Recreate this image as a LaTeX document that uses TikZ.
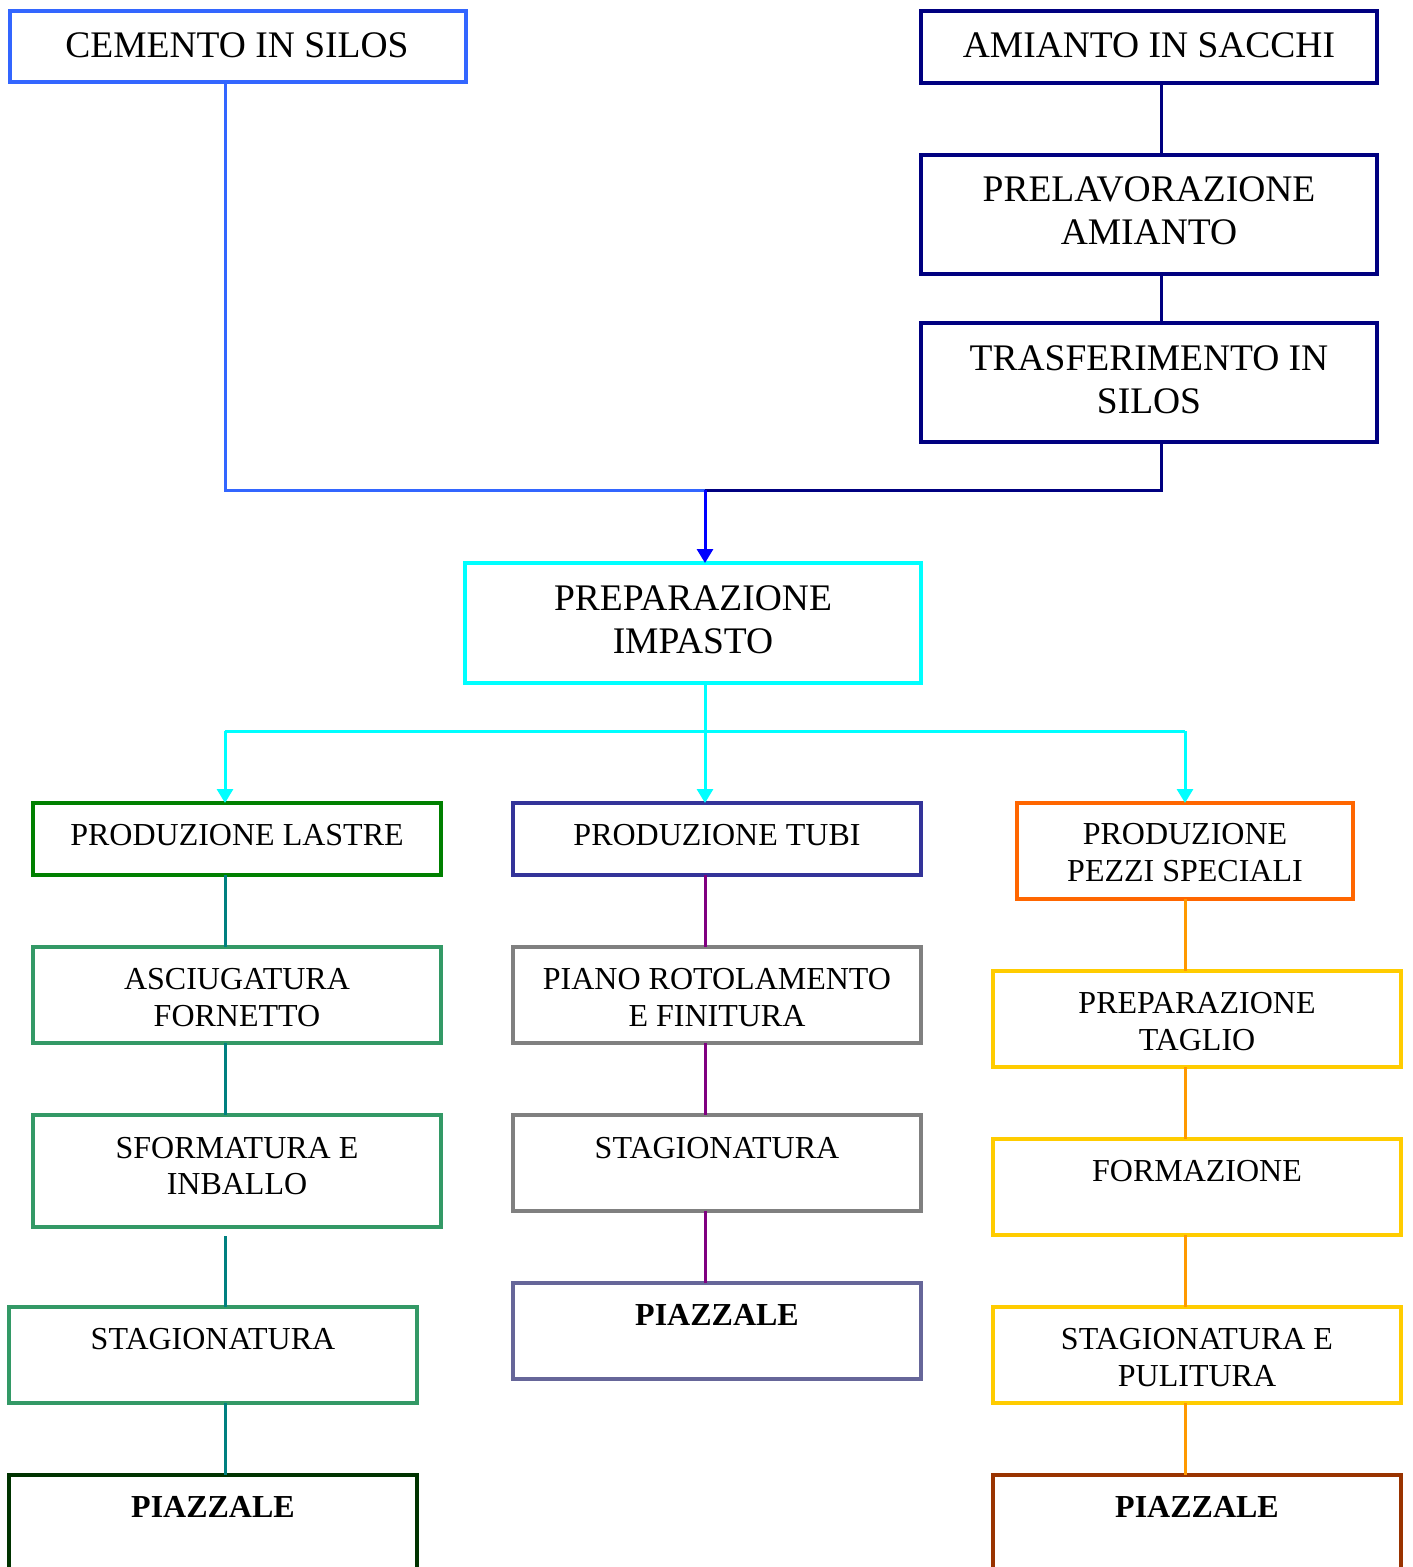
\documentclass[tikz,border=0pt]{standalone}
\usepackage{fontspec}
\setmainfont{Liberation Serif}
\usetikzlibrary{arrows.meta}

\definecolor{cemblue}{HTML}{3366FF}
\definecolor{navyline}{HTML}{000080}
\definecolor{arrowblue}{HTML}{0000FF}
\definecolor{cyanline}{HTML}{00FFFF}
\definecolor{lastregreen}{HTML}{008000}
\definecolor{tubiblue}{HTML}{333399}
\definecolor{pezziorange}{HTML}{FF6600}
\definecolor{seagreen}{HTML}{339966}
\definecolor{grayline}{HTML}{808080}
\definecolor{goldline}{HTML}{FFCC00}
\definecolor{tealline}{HTML}{008080}
\definecolor{purpleline}{HTML}{800080}
\definecolor{lightorange}{HTML}{FF9900}
\definecolor{slateline}{HTML}{666699}
\definecolor{darkgreen}{HTML}{003300}
\definecolor{brownline}{HTML}{993300}

\tikzset{
  procbox/.style={draw, line width=3.5pt, inner sep=0pt, outer sep=0pt},
  bigtext/.style={font=\fontsize{37.5}{44}\selectfont, anchor=base, inner sep=0pt},
  smalltext/.style={font=\fontsize{32}{37}\selectfont, anchor=base, inner sep=0pt},
  boldtext/.style={font=\fontsize{32}{37}\selectfont\bfseries, anchor=base, inner sep=0pt},
  link/.style={line width=3pt},
  tip/.style={-{Triangle[width=16pt,length=14pt]}}
}

\begin{document}
\begin{tikzpicture}[x=1pt, y=-1pt]
\clip (0,0) rectangle (1413,1567);
\fill[white] (0,0) rectangle (1413,1567);

% ---------- raw materials ----------
\node[procbox, draw=cemblue, line width=4pt, minimum width=456pt, minimum height=71pt] (cem) at (237.5,46.5) {};
\node[bigtext] (cemT) at (237,57) {CEMENTO IN SILOS};

\node[procbox, draw=navyline, minimum width=456pt, minimum height=72pt] (ami) at (1149,47) {};
\node[bigtext] (amiT) at (1149,57) {AMIANTO IN SACCHI};

\node[procbox, draw=navyline, minimum width=456pt, minimum height=119pt] (pre) at (1149,214.5) {};
\node[bigtext] (preT1) at (1149,201) {PRELAVORAZIONE};
\node[bigtext] (preT2) at (1149,244) {AMIANTO};

\node[procbox, draw=navyline, minimum width=456pt, minimum height=119pt] (tra) at (1149,382.5) {};
\node[bigtext] (traT1) at (1149,370) {TRASFERIMENTO IN};
\node[bigtext] (traT2) at (1149,413) {SILOS};

% ---------- mixing ----------
\node[procbox, draw=cyanline, minimum width=456pt, minimum height=120pt] (imp) at (693,623) {};
\node[bigtext] (impT1) at (693,610) {PREPARAZIONE};
\node[bigtext] (impT2) at (693,653) {IMPASTO};

% ---------- sheets line ----------
\node[procbox, draw=lastregreen, minimum width=408pt, minimum height=72pt] (las) at (237,839) {};
\node[smalltext] (lasT) at (237,845) {PRODUZIONE LASTRE};

\node[procbox, draw=seagreen, minimum width=408pt, minimum height=96pt] (asc) at (237,995) {};
\node[smalltext] (ascT1) at (237,989) {ASCIUGATURA};
\node[smalltext] (ascT2) at (237,1026) {FORNETTO};

\node[procbox, draw=seagreen, minimum width=408pt, minimum height=112pt] (sfo) at (237,1171) {};
\node[smalltext] (sfoT1) at (237,1158) {SFORMATURA E};
\node[smalltext] (sfoT2) at (237,1194) {INBALLO};

\node[procbox, draw=seagreen, minimum width=408pt, minimum height=96pt] (stl) at (213,1355) {};
\node[smalltext] (stlT) at (213,1349) {STAGIONATURA};

\node[procbox, draw=darkgreen, minimum width=408pt, minimum height=130pt] (pzl) at (213,1540) {};
\node[boldtext] (pzlT) at (213,1517) {PIAZZALE};

% ---------- pipes line ----------
\node[procbox, draw=tubiblue, minimum width=408pt, minimum height=72pt] (tub) at (717,839) {};
\node[smalltext] (tubT) at (717,845) {PRODUZIONE TUBI};

\node[procbox, draw=grayline, minimum width=408pt, minimum height=96pt] (rot) at (717,995) {};
\node[smalltext] (rotT1) at (717,989) {PIANO ROTOLAMENTO};
\node[smalltext] (rotT2) at (717,1026) {E FINITURA};

\node[procbox, draw=grayline, minimum width=408pt, minimum height=96pt] (stt) at (717,1163) {};
\node[smalltext] (sttT) at (717,1158) {STAGIONATURA};

\node[procbox, draw=slateline, minimum width=408pt, minimum height=96pt] (pzt) at (717,1331) {};
\node[boldtext] (pztT) at (717,1325) {PIAZZALE};

% ---------- special pieces line ----------
\node[procbox, draw=pezziorange, minimum width=336pt, minimum height=96pt] (pez) at (1185,851) {};
\node[smalltext] (pezT1) at (1185,844) {PRODUZIONE};
\node[smalltext] (pezT2) at (1185,881) {PEZZI SPECIALI};

\node[procbox, draw=goldline, minimum width=408pt, minimum height=96pt] (tag) at (1197,1019) {};
\node[smalltext] (tagT1) at (1197,1013) {PREPARAZIONE};
\node[smalltext] (tagT2) at (1197,1050) {TAGLIO};

\node[procbox, draw=goldline, minimum width=408pt, minimum height=96pt] (frm) at (1197,1187) {};
\node[smalltext] (frmT) at (1197,1181) {FORMAZIONE};

\node[procbox, draw=goldline, minimum width=408pt, minimum height=96pt] (pul) at (1197,1355) {};
\node[smalltext] (pulT1) at (1197,1349) {STAGIONATURA E};
\node[smalltext] (pulT2) at (1197,1386) {PULITURA};

\node[procbox, draw=brownline, minimum width=408pt, minimum height=130pt] (pzp) at (1197,1540) {};
\node[boldtext] (pzpT) at (1197,1517) {PIAZZALE};

% ---------- junction points ----------
\coordinate (jl) at (225,490);
\coordinate (jm) at (705,490);
\coordinate (jr) at (1161,490);
\coordinate (sl) at (225,731);
\coordinate (sm) at (705,731);
\coordinate (sr) at (1185,731);

% ---------- feeds into the mixer ----------
\draw[link, cemblue] (cem.south -| jl) -- (jl) -- (jm);
\draw[link, navyline] (ami.south -| jr) -- (pre.north -| jr);
\draw[link, navyline] (pre.south -| jr) -- (tra.north -| jr);
\draw[link, navyline] (tra.south -| jr) -- (jr) -- (jm);
\draw[link, arrowblue, tip] (jm) -- (imp.north -| jm);

% ---------- split to the three lines ----------
\draw[link, cyanline] (imp.south -| sm) -- (sm);
\draw[link, cyanline] (sl) -- (sr);
\draw[link, cyanline, tip] (sl) -- (las.north -| sl);
\draw[link, cyanline, tip] (sm) -- (tub.north -| sm);
\draw[link, cyanline, tip] (sr) -- (pez.north -| sr);

% ---------- sheets connectors ----------
\draw[link, tealline] (las.south -| sl) -- (asc.north -| sl);
\draw[link, tealline] (asc.south -| sl) -- (sfo.north -| sl);
\draw[link, tealline] ([yshift=-9pt]sfo.south -| sl) -- (stl.north -| sl);
\draw[link, tealline] (stl.south -| sl) -- (pzl.north -| sl);

% ---------- pipes connectors ----------
\draw[link, purpleline] (tub.south -| sm) -- (rot.north -| sm);
\draw[link, purpleline] (rot.south -| sm) -- (stt.north -| sm);
\draw[link, purpleline] (stt.south -| sm) -- (pzt.north -| sm);

% ---------- special pieces connectors ----------
\draw[link, lightorange] (pez.south -| sr) -- (tag.north -| sr);
\draw[link, lightorange] (tag.south -| sr) -- (frm.north -| sr);
\draw[link, lightorange] (frm.south -| sr) -- (pul.north -| sr);
\draw[link, lightorange] (pul.south -| sr) -- (pzp.north -| sr);
\end{tikzpicture}
\end{document}
